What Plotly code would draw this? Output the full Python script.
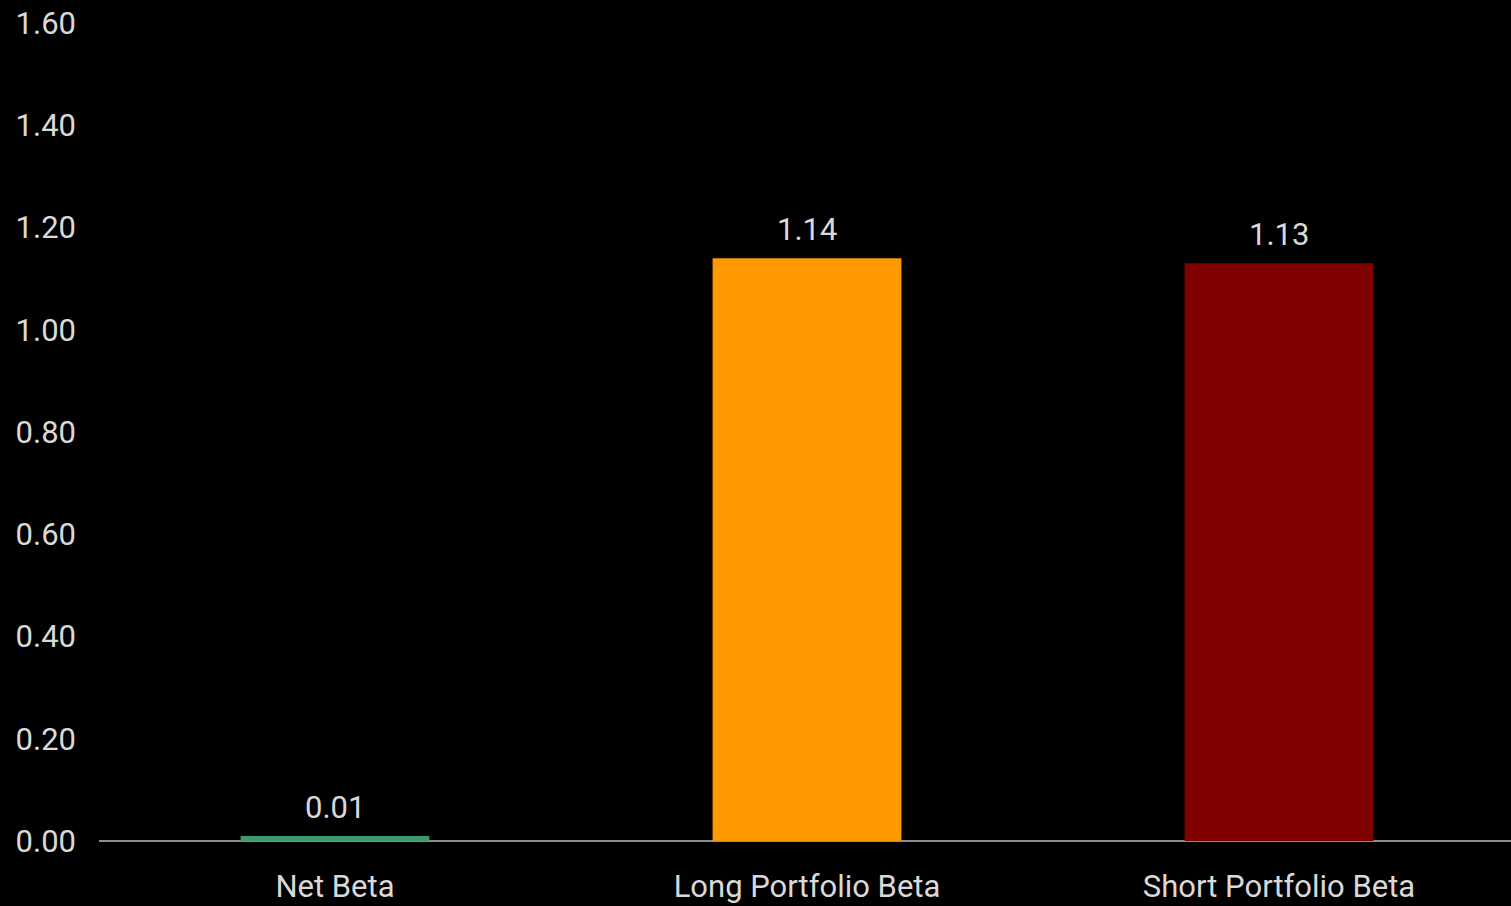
import plotly.graph_objects as go

categories = ["Net Beta", "Long Portfolio Beta", "Short Portfolio Beta"]
beta_values = [0.01, 1.14, 1.13]
bar_colors = ["#3a9a6a", "#ff9900", "#800000"]
y_ticks = [0.0, 0.2, 0.4, 0.6, 0.8, 1.0, 1.2, 1.4, 1.6]

text_color = "#d9d9d9"
font_family = "Roboto"
font_size = 31
label_font = dict(family=font_family, size=font_size, color=text_color)

fig = go.Figure()
fig.add_trace(go.Bar(
    x=categories,
    y=beta_values,
    marker=dict(color=bar_colors, line=dict(width=0)),
    width=0.4,
    hoverinfo="skip",
))

# value labels above each bar
for cat, val in zip(categories, beta_values):
    fig.add_annotation(
        x=cat, y=val, text=f"{val:.2f}", showarrow=False,
        yanchor="bottom", yshift=8,
        font=label_font,
    )

fig.update_layout(
    width=1511, height=906,
    margin=dict(l=99, r=0, t=23, b=65),
    paper_bgcolor="#000000",
    plot_bgcolor="#000000",
    showlegend=False,
    font=label_font,
)
fig.update_xaxes(
    range=[-0.5, 2.4915],
    showgrid=False, zeroline=False,
    showline=False, ticks="",
    automargin=False,
    ticklabelstandoff=24,
    tickfont=label_font,
)
fig.update_yaxes(
    range=[0, 1.6],
    tickvals=y_ticks,
    ticktext=[f"{v:.2f}" for v in y_ticks],
    showgrid=False,
    zeroline=True, zerolinecolor="#8c8c8c", zerolinewidth=2,
    showline=False, ticks="",
    automargin=False,
    ticklabelstandoff=22,
    tickfont=label_font,
)

fig.write_html("out.html")
